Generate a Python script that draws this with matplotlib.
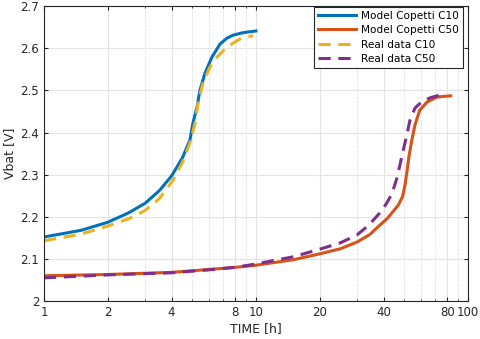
import matplotlib.pyplot as plt
from matplotlib.ticker import FixedLocator, NullFormatter, LogLocator

# time [h] and voltage [V]
t_model_c10 = [1, 1.5, 2, 2.5, 3, 3.5, 4, 4.5, 4.88, 5.04, 5.27, 5.44, 5.74, 6.2,
               6.77, 7.3, 7.8, 8.7, 9.67, 10]
v_model_c10 = [2.152, 2.168, 2.187, 2.209, 2.232, 2.262, 2.297, 2.340, 2.382, 2.422, 2.46,
               2.50, 2.54, 2.579, 2.610, 2.624, 2.631, 2.637, 2.64, 2.641]

t_model_c50 = [1, 2, 4, 6, 8, 10, 15, 20, 25, 30, 34.5, 38.4, 41.5, 44.3, 47, 49.2, 50.5,
               51.5, 52.7, 54.4, 56.3, 59.3, 64.1, 71.4, 78, 83]
v_model_c50 = [2.060, 2.063, 2.068, 2.075, 2.080, 2.085, 2.098, 2.112, 2.124, 2.140, 2.158,
               2.180, 2.195, 2.212, 2.228, 2.248, 2.275, 2.304, 2.342, 2.382, 2.418, 2.453,
               2.472, 2.484, 2.486, 2.487]

t_real_c10 = [1, 1.5, 2, 2.5, 3, 3.5, 4, 4.48, 4.88, 5.16, 5.33, 5.62, 6.06, 6.55,
              7.3, 8.4, 9.7]
v_real_c10 = [2.143, 2.159, 2.178, 2.195, 2.215, 2.243, 2.282, 2.327, 2.375, 2.422, 2.47,
              2.517, 2.555, 2.579, 2.603, 2.622, 2.63]

t_real_c50 = [1, 2, 4, 6, 8, 10, 15, 20, 25, 30, 32.6, 35.5, 38.4, 41, 43.8, 46.4, 49.2,
              51.5, 53.3, 56.3, 61.2, 67, 75]
v_real_c50 = [2.055, 2.062, 2.067, 2.074, 2.080, 2.088, 2.105, 2.123, 2.138, 2.157, 2.172,
              2.190, 2.209, 2.229, 2.254, 2.294, 2.351, 2.394, 2.429, 2.458, 2.475, 2.483, 2.49]

xticks = [1, 2, 4, 8, 10, 20, 40, 80, 100]
xticklabels = ['1', '2', '4', '8', '10', '20', '40', '80', '100']
yticks = [2, 2.1, 2.2, 2.3, 2.4, 2.5, 2.6, 2.7]
yticklabels = ['2', '2.1', '2.2', '2.3', '2.4', '2.5', '2.6', '2.7']

fig = plt.figure(figsize=(4.8, 3.39), dpi=100)
ax = fig.add_axes([0.0917, 0.112, 0.883, 0.870])

ax.plot(t_model_c10, v_model_c10, color='#0072BD', lw=2.2, label='Model Copetti C10')
ax.plot(t_model_c50, v_model_c50, color='#D95319', lw=2.2, label='Model Copetti C50')
ax.plot(t_real_c10, v_real_c10, color='#EDB120', lw=2.2, ls=(0, (4, 2.5)), label='Real data C10')
ax.plot(t_real_c50, v_real_c50, color='#7E2F8E', lw=2.2, ls=(0, (4, 2.5)), label='Real data C50')

ax.set_xscale('log')
ax.set_xlim(1, 100)
ax.set_ylim(2, 2.7)
ax.xaxis.set_major_locator(FixedLocator(xticks))
ax.set_xticklabels(xticklabels)
ax.xaxis.set_minor_locator(LogLocator(base=10, subs=(3, 5, 6, 7, 9)))
ax.xaxis.set_minor_formatter(NullFormatter())
ax.set_yticks(yticks)
ax.set_yticklabels(yticklabels)

ax.grid(True, which='major', color='#e3e3e3', lw=0.8)
ax.grid(True, which='minor', axis='x', color='#d0d0d0', lw=0.7, ls=':')
ax.set_axisbelow(True)

ax.tick_params(which='both', direction='in', top=True, right=True, labelsize=8.5, colors='#262626')
ax.tick_params(which='major', length=3)
ax.tick_params(which='minor', length=1.5)
for s in ax.spines.values():
    s.set_color('#262626')
    s.set_linewidth(0.8)

ax.set_xlabel('TIME [h]', fontsize=9, color='#262626', labelpad=2)
ax.set_ylabel('Vbat [V]', fontsize=9, color='#262626', labelpad=3)

leg = ax.legend(loc='upper right', bbox_to_anchor=(0.988, 0.997), fontsize=7.6,
                fancybox=False, framealpha=1, edgecolor='#262626', borderaxespad=0,
                handlelength=3.6, handletextpad=0.5, labelspacing=0.42, borderpad=0.35)
leg.get_frame().set_linewidth(0.8)

plt.savefig('out.png', dpi=100)
